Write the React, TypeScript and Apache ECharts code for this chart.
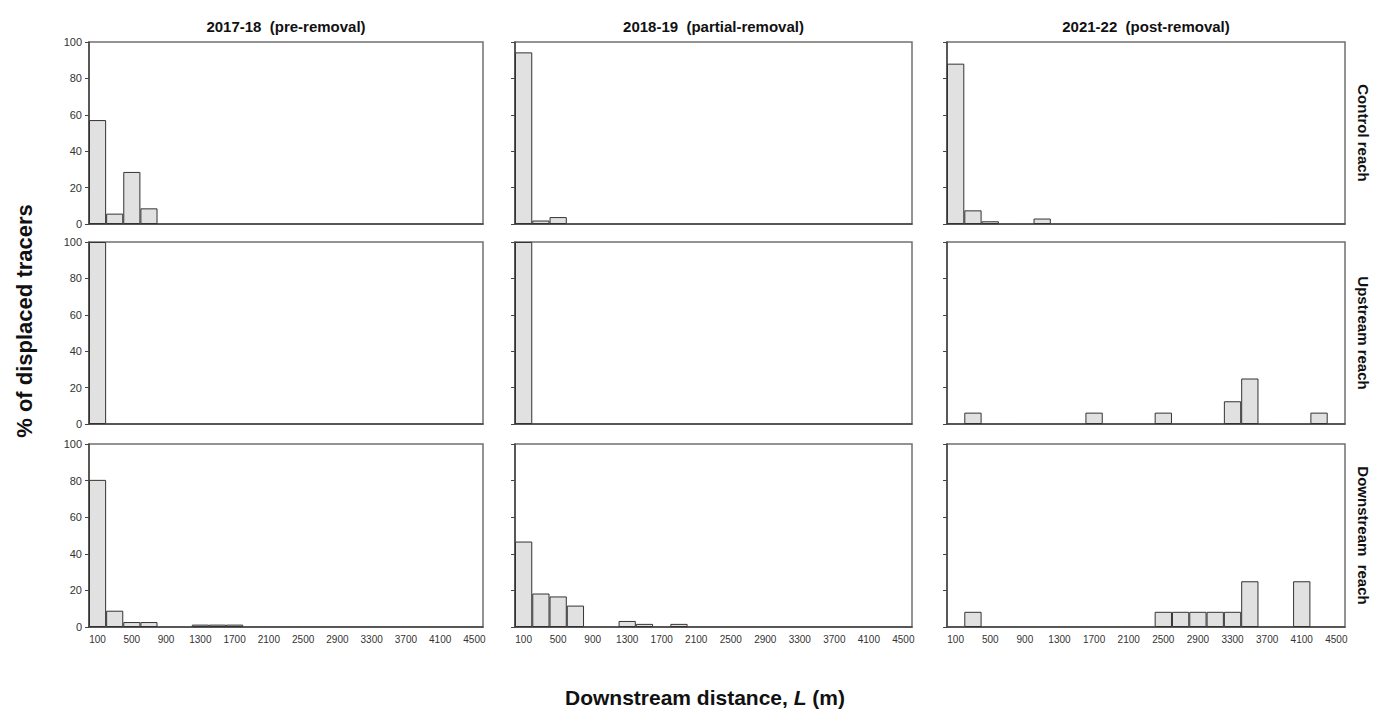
import React, { useEffect, useRef } from "react";
import * as echarts from "echarts";

const categories = [
  "100", "300", "500", "700", "900", "1100", "1300", "1500", "1700", "1900", "2100", "2300",
  "2500", "2700", "2900", "3100", "3300", "3500", "3700", "3900", "4100", "4300", "4500",
];

const columnTitles = ["2017-18  (pre-removal)", "2018-19  (partial-removal)", "2021-22  (post-removal)"];
const rowTitles = ["Control reach", "Upstream reach", "Downstream  reach"];
const yTicks = [0, 20, 40, 60, 80, 100];

// % of displaced tracers per 200 m bin
const control2017 = [57.1, 5.7, 28.6, 8.6, 0, 0, 0, 0, 0, 0, 0, 0, 0, 0, 0, 0, 0, 0, 0, 0, 0, 0, 0];
const control2018 = [94.3, 1.9, 3.8, 0, 0, 0, 0, 0, 0, 0, 0, 0, 0, 0, 0, 0, 0, 0, 0, 0, 0, 0, 0];
const control2021 = [88.1, 7.5, 1.5, 0, 0, 3.0, 0, 0, 0, 0, 0, 0, 0, 0, 0, 0, 0, 0, 0, 0, 0, 0, 0];
const upstream2017 = [100, 0, 0, 0, 0, 0, 0, 0, 0, 0, 0, 0, 0, 0, 0, 0, 0, 0, 0, 0, 0, 0, 0];
const upstream2018 = [100, 0, 0, 0, 0, 0, 0, 0, 0, 0, 0, 0, 0, 0, 0, 0, 0, 0, 0, 0, 0, 0, 0];
const upstream2021 = [0, 6.25, 0, 0, 0, 0, 0, 0, 6.25, 0, 0, 0, 6.25, 0, 0, 0, 12.5, 25, 0, 0, 0, 6.25, 0];
const downstream2017 = [80.4, 8.9, 2.7, 2.7, 0, 0, 1.3, 1.3, 1.3, 0, 0, 0, 0, 0, 0, 0, 0, 0, 0, 0, 0, 0, 0];
const downstream2018 = [46.7, 18.3, 16.7, 11.7, 0, 0, 3.3, 1.7, 0, 1.7, 0, 0, 0, 0, 0, 0, 0, 0, 0, 0, 0, 0, 0];
const downstream2021 = [0, 8.3, 0, 0, 0, 0, 0, 0, 0, 0, 0, 0, 8.3, 8.3, 8.3, 8.3, 8.3, 25, 0, 0, 25, 0, 0];

const panels = [
  [control2017, control2018, control2021],
  [upstream2017, upstream2018, upstream2021],
  [downstream2017, downstream2018, downstream2021],
];

export default function App() {
  const ref = useRef<HTMLDivElement>(null);
  useEffect(() => {
    if (!ref.current) return;
    const chart = echarts.init(ref.current, undefined, { renderer: "svg" });
    const colLeft = [89, 515, 947];
    const colWidth = [394, 397, 398];
    const rowTop = [42, 242, 444];
    const rowHeight = [182, 182, 183];
    const grids: any[] = [];
    const xAxes: any[] = [];
    const yAxes: any[] = [];
    const series: any[] = [];
    const font = "Arial, 'Liberation Sans', sans-serif";
    for (let r = 0; r < 3; r++) {
      for (let c = 0; c < 3; c++) {
        const idx = r * 3 + c;
        grids.push({
          left: colLeft[c], top: rowTop[r], width: colWidth[c], height: rowHeight[r],
          show: true, borderColor: "#707070", borderWidth: 1.5, backgroundColor: "transparent",
        });
        xAxes.push({
          type: "category", gridIndex: idx, data: categories,
          axisTick: { show: false },
          axisLine: { show: true, lineStyle: { color: "#444", width: 1.5 } },
          axisLabel: { show: r === 2, interval: 1, fontSize: 10, color: "#333", margin: 7, fontFamily: font },
          splitLine: { show: false },
        });
        yAxes.push({
          type: "value", gridIndex: idx, min: yTicks[0], max: yTicks[yTicks.length - 1], interval: 20,
          axisTick: { show: true, length: 4, lineStyle: { color: "#444" } },
          axisLine: { show: true, lineStyle: { color: "#444", width: 1.5 } },
          axisLabel: { show: c === 0, fontSize: 11, color: "#333", margin: 7, fontFamily: font },
          splitLine: { show: false },
        });
        series.push({
          type: "bar", xAxisIndex: idx, yAxisIndex: idx,
          data: panels[r][c].map((v) => (v === 0 ? "-" : v)),
          barCategoryGap: "0%",
          itemStyle: { color: "#e1e1e1", borderColor: "#333", borderWidth: 1 },
        });
      }
    }
    const graphics: any[] = [];
    for (let c = 0; c < 3; c++) {
      graphics.push({
        type: "text", x: colLeft[c] + colWidth[c] / 2, y: 26,
        style: { text: columnTitles[c], fontSize: 15, fontWeight: "bold", fill: "#111", fontFamily: font, textAlign: "center", textVerticalAlign: "middle" },
      });
    }
    for (let r = 0; r < 3; r++) {
      graphics.push({
        type: "text", x: 1363, y: rowTop[r] + rowHeight[r] / 2, rotation: -Math.PI / 2,
        style: { text: rowTitles[r], fontSize: 15, fontWeight: "bold", fill: "#111", fontFamily: font, textAlign: "center", textVerticalAlign: "middle" },
      });
    }
    graphics.push({
      type: "text", x: 24, y: 321, rotation: Math.PI / 2,
      style: { text: "% of displaced tracers", fontSize: 22, fontWeight: "bold", fill: "#111", fontFamily: font, textAlign: "center", textVerticalAlign: "middle" },
    });
    graphics.push({
      type: "text", x: 705, y: 697,
      style: {
        text: "{a|Downstream distance, }{b|L}{a| (m)}",
        textAlign: "center", textVerticalAlign: "middle",
        rich: {
          a: { fontSize: 21, fontWeight: "bold", fill: "#111", fontFamily: font },
          b: { fontSize: 21, fontWeight: "bold", fontStyle: "italic", fill: "#111", fontFamily: font },
        },
      },
    });
    chart.setOption({
      animation: false,
      backgroundColor: "#fff",
      grid: grids, xAxis: xAxes, yAxis: yAxes, series, graphic: graphics,
    });
    return () => chart.dispose();
  }, []);
  return <div ref={ref} style={{ position: "fixed", left: 0, top: 0, width: 1387, height: 711 }} />;
}
